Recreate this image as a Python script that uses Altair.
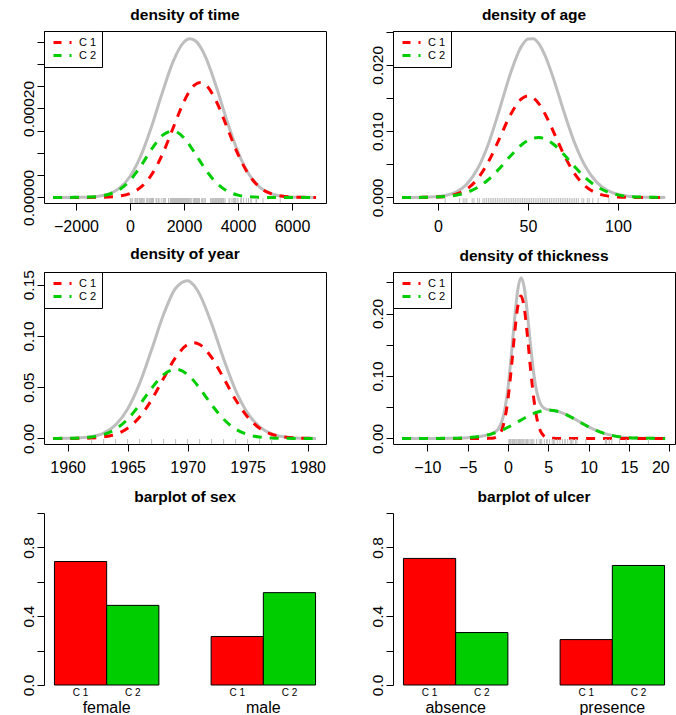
import altair as alt
import pandas as pd

FONT = "Liberation Sans"
RED, GREEN, GRAY = "#FF0000", "#00CD00", "#BEBEBE"
SERIES = ["C 1", "C 2"]

# ---------------- density of time ----------------
time_x = [-2850, -2400, -2000, -1600, -1200, -800, -400, 0, 400, 800, 1200, 1600, 2000, 2200,
          2400, 2600, 2800, 3200, 3600, 4000, 4400, 4800, 5200, 5600, 6000, 6400, 6890]
time_c1 = [0, 0, 0, 0, 2e-7, 8e-7, 2.9e-6, 8.8e-6, 2.29e-5, 5.11e-5, 9.68e-5, 1.565e-4, 2.155e-4, 2.381e-4,
           2.53e-4, 2.58e-4, 2.53e-4, 2.155e-4, 1.565e-4, 9.68e-5, 5.11e-5, 2.29e-5, 8.8e-6, 2.9e-6, 8e-7, 2e-7, 0]
time_c2 = [0, 0, 1.2e-7, 5.5e-7, 2.07e-6, 6.6e-6, 1.73e-5, 3.82e-5, 7.04e-5, 1.083e-4, 1.392e-4, 1.493e-4, 1.338e-4, 1.183e-4,
           1.0e-4, 8.09e-5, 6.25e-5, 3.26e-5, 1.42e-5, 5.2e-6, 1.57e-6, 4e-7, 0, 0, 0, 0, 0]
time_mix = [0, 0, 1.2e-7, 5.5e-7, 2.27e-6, 7.4e-6, 2.02e-5, 4.70e-5, 9.33e-5, 1.594e-4, 2.360e-4, 3.058e-4, 3.493e-4, 3.564e-4,
            3.53e-4, 3.389e-4, 3.155e-4, 2.481e-4, 1.707e-4, 1.020e-4, 5.27e-5, 2.33e-5, 8.8e-6, 2.9e-6, 8e-7, 2e-7, 0]
time_rug = [10, 30, 35, 99, 185, 204, 210, 232, 279, 295, 355, 386, 426, 469, 493, 529, 621, 629, 659, 667, 718,
            752, 779, 793, 817, 826, 833, 858, 869, 872, 967, 977, 982, 1041, 1055, 1062, 1075, 1156, 1228, 1252,
            1271, 1312, 1427, 1435, 1499, 1506, 1508, 1510, 1512, 1516, 1525, 1548, 1557, 1560, 1563, 1584, 1605,
            1621, 1627, 1634, 1641, 1648, 1652, 1654, 1667, 1678, 1685, 1690, 1710, 1726, 1745, 1762, 1779, 1787,
            1793, 1804, 1812, 1836, 1839, 1854, 1856, 1860, 1864, 1899, 1914, 1919, 1920, 1927, 1933, 1942, 1955,
            1956, 1958, 1963, 1970, 2005, 2007, 2011, 2024, 2028, 2038, 2056, 2059, 2061, 2062, 2075, 2085, 2102,
            2103, 2104, 2108, 2112, 2150, 2156, 2165, 2209, 2227, 2256, 2264, 2339, 2361, 2387, 2388, 2403, 2426,
            2431, 2460, 2467, 2492, 2493, 2521, 2542, 2559, 2565, 2570, 2660, 2666, 2676, 2738, 2782, 2787, 2984,
            3032, 3040, 3042, 3067, 3079, 3101, 3144, 3152, 3154, 3180, 3182, 3185, 3199, 3228, 3229, 3278, 3297,
            3328, 3330, 3338, 3383, 3384, 3385, 3388, 3402, 3441, 3458, 3459, 3476, 3523, 3667, 3695, 3776, 3830,
            3856, 3872, 3909, 3968, 4001, 4103, 4119, 4124, 4207, 4310, 4390, 4479, 4492, 4668, 4688, 4926, 5565]

# ---------------- density of age ----------------
age_x = [-20, -14, -8, -2, 4, 10, 16, 22, 28, 34, 40, 46, 50, 53, 56, 60, 64, 70, 76, 82, 88, 94, 100, 106,
         112, 118, 124, 126.3]
age_c1 = [4e-7, 2.1e-6, 1.05e-5, 4.4e-5, 1.57e-4, 4.80e-4, 1.253e-3, 2.805e-3, 5.37e-3, 8.79e-3, 1.232e-2, 1.478e-2,
          1.53e-2, 1.50e-2, 1.415e-2, 1.232e-2, 1.001e-2, 6.44e-3, 3.54e-3, 1.668e-3, 6.72e-4, 2.32e-4, 6.8e-5,
          1.7e-5, 3.7e-6, 7e-7, 0, 0]
age_c2 = [1.0e-6, 4.1e-6, 1.45e-5, 4.6e-5, 1.31e-4, 3.32e-4, 7.49e-4, 1.508e-3, 2.70e-3, 4.32e-3, 6.16e-3, 7.83e-3,
          8.61e-3, 8.95e-3, 9.04e-3, 8.75e-3, 8.06e-3, 6.46e-3, 4.62e-3, 2.95e-3, 1.675e-3, 8.49e-4, 3.84e-4,
          1.54e-4, 5.5e-5, 1.8e-5, 5e-6, 3e-6]
age_mix = [1.4e-6, 6.2e-6, 2.5e-5, 9.0e-5, 2.88e-4, 8.12e-4, 2.002e-3, 4.313e-3, 8.07e-3, 1.311e-2, 1.848e-2,
           2.261e-2, 2.391e-2, 2.395e-2, 2.319e-2, 2.107e-2, 1.807e-2, 1.29e-2, 8.16e-3, 4.618e-3, 2.347e-3,
           1.081e-3, 4.52e-4, 1.71e-4, 5.9e-5, 1.9e-5, 5e-6, 3e-6]
age_rug = [4, 12, 14, 15, 16, 19, 20, 22, 23, 25, 26, 27, 28, 29, 30, 31, 32, 33, 34, 35, 36, 37, 38, 39, 40, 41,
           42, 43, 44, 45, 46, 47, 48, 49, 50, 51, 52, 53, 54, 55, 56, 57, 58, 59, 60, 61, 62, 63, 64, 65, 66, 67,
           68, 69, 70, 71, 72, 73, 74, 75, 76, 77, 78, 80, 81, 83, 84, 86, 89, 95]

# ---------------- density of year ----------------
year_x = [1958.8, 1959, 1960, 1961, 1962, 1963, 1964, 1965, 1966, 1967, 1968, 1969, 1970, 1970.5, 1971, 1972,
          1973, 1974, 1975, 1976, 1977, 1978, 1979, 1980, 1980.7]
year_c1 = [3e-6, 5e-6, 2.7e-5, 1.18e-4, 4.46e-4, 1.46e-3, 4.1e-3, 9.96e-3, 2.086e-2, 3.77e-2, 5.88e-2, 7.90e-2,
           9.16e-2, 9.33e-2, 9.16e-2, 7.90e-2, 5.88e-2, 3.77e-2, 2.086e-2, 9.96e-3, 4.1e-3, 1.46e-3, 4.46e-4,
           1.18e-4, 4e-5]
year_c2 = [1.6e-5, 2.3e-5, 1.03e-4, 4.04e-4, 1.34e-3, 3.79e-3, 9.13e-3, 1.877e-2, 3.286e-2, 4.90e-2, 6.23e-2,
           6.75e-2, 6.23e-2, 5.64e-2, 4.90e-2, 3.286e-2, 1.877e-2, 9.13e-3, 3.79e-3, 1.34e-3, 4.04e-4, 1.03e-4,
           2.3e-5, 4e-6, 1e-6]
year_mix = [1.9e-5, 2.8e-5, 1.3e-4, 5.22e-4, 1.786e-3, 5.25e-3, 1.323e-2, 2.873e-2, 5.372e-2, 8.67e-2, 1.211e-1,
            1.465e-1, 1.539e-1, 1.497e-1, 1.406e-1, 1.119e-1, 7.757e-2, 4.683e-2, 2.465e-2, 1.13e-2, 4.504e-3,
            1.563e-3, 4.69e-4, 1.22e-4, 4.1e-5]
year_rug = [1962, 1963, 1964, 1965, 1966, 1967, 1968, 1969, 1970, 1971, 1972, 1973, 1974, 1975, 1976, 1977]

# ---------------- density of thickness ----------------
thick_x = [-13.15, -11, -9, -7, -5, -4, -3, -2.4, -2, -1.6, -1.2, -0.8, -0.4, 0, 0.4, 0.8, 1.2, 1.6, 2.0, 2.4,
           2.8, 3.2, 3.6, 4.0, 4.4, 4.8, 5.2, 6, 7, 8, 9, 10, 11, 12, 13, 14, 15, 16, 17.5, 19.5]
thick_c1 = [0, 0, 0, 0, 0, 0, 6e-6, 7.6e-5, 3.5e-4, 1.36e-3, 4.52e-3, 1.28e-2, 3.09e-2, 6.33e-2, 1.11e-1,
            1.655e-1, 2.104e-1, 2.28e-1, 2.104e-1, 1.655e-1, 1.11e-1, 6.33e-2, 3.09e-2, 1.28e-2, 4.52e-3, 1.36e-3,
            3.5e-4, 1.4e-5, 0, 0, 0, 0, 0, 0, 0, 0, 0, 0, 0, 0]
thick_c2 = [0, 3.7e-6, 3.3e-5, 2.26e-4, 1.13e-3, 2.27e-3, 4.25e-3, 5.97e-3, 7.37e-3, 9.01e-3, 1.087e-2, 1.298e-2,
            1.531e-2, 1.785e-2, 2.056e-2, 2.342e-2, 2.636e-2, 2.933e-2, 3.225e-2, 3.505e-2, 3.765e-2, 3.998e-2,
            4.195e-2, 4.351e-2, 4.461e-2, 4.52e-2, 4.526e-2, 4.383e-2, 3.943e-2, 3.297e-2, 2.562e-2, 1.851e-2,
            1.243e-2, 7.76e-3, 4.5e-3, 2.43e-3, 1.22e-3, 5.7e-4, 1.6e-4, 2.2e-5]
thick_mix = [0, 3.7e-6, 3.3e-5, 2.26e-4, 1.13e-3, 2.27e-3, 4.256e-3, 6.05e-3, 7.72e-3, 1.037e-2, 1.539e-2,
             2.578e-2, 4.621e-2, 8.115e-2, 1.3156e-1, 1.8892e-1, 2.3676e-1, 2.5733e-1, 2.4265e-1, 2.0055e-1,
             1.4865e-1, 1.0328e-1, 7.285e-2, 5.631e-2, 4.913e-2, 4.656e-2, 4.561e-2, 4.384e-2, 3.943e-2, 3.297e-2,
             2.562e-2, 1.851e-2, 1.243e-2, 7.76e-3, 4.5e-3, 2.43e-3, 1.22e-3, 5.7e-4, 1.6e-4, 2.2e-5]
thick_rug = [0.10, 0.16, 0.24, 0.32, 0.48, 0.58, 0.64, 0.65, 0.81, 0.97, 1.03, 1.13, 1.29, 1.34, 1.37, 1.45, 1.53,
             1.62, 1.76, 1.78, 1.94, 2.10, 2.24, 2.26, 2.34, 2.42, 2.58, 2.74, 2.90, 3.06, 3.22, 3.54, 3.56, 3.87,
             4.04, 4.09, 4.19, 4.51, 4.82, 4.83, 4.84, 5.16, 5.48, 5.64, 5.80, 6.12, 6.44, 6.76, 7.06, 7.09, 7.41,
             7.73, 7.89, 8.06, 8.38, 8.54, 9.66, 12.08, 12.24, 12.56, 12.88, 13.85, 14.66, 17.42]

# ---------------- barplots ----------------
sex_cats = ["female", "male"]
sex_c1 = [0.718, 0.282]
sex_c2 = [0.463, 0.537]
ulcer_cats = ["absence", "presence"]
ulcer_c1 = [0.736, 0.264]
ulcer_c2 = [0.305, 0.695]

W, H = 282, 172
NBSP = "\u00a0"


def curves_frame(x, c1, c2, mix):
    rows = []
    for xi, a, b, m in zip(x, c1, c2, mix):
        rows.append({"x": xi, "s": "mix", "y": m})
        rows.append({"x": xi, "s": "C 1", "y": a})
        rows.append({"x": xi, "s": "C 2", "y": b})
    return pd.DataFrame(rows)


def ylabel_expr(keep, fmt):
    cond = " || ".join(f"abs(datum.value - {v!r}) < 1e-9" for v in keep)
    return f"({cond}) ? format(datum.value, '{fmt}') : ''"


def title(t):
    return alt.TitleParams(text=t, fontSize=15.5, fontWeight="bold", font=FONT, color="black",
                           offset=-5, baseline="alphabetic", anchor="middle", frame="group")


def yaxis(values, keep, fmt, domain=False):
    return alt.Axis(values=values, title=None, grid=False, domain=domain, domainColor="black",
                    ticks=True, tickSize=7, tickColor="black", labelAngle=270, labelAlign="center",
                    labelBaseline="bottom", labelPadding=1, labelFontSize=15.5, labelFont=FONT,
                    labelColor="black", labelOverlap=False, labelExpr=ylabel_expr(keep, fmt))


def xaxis(values, flush=0):
    return alt.Axis(values=values, format="d", title=None, grid=False, domain=False, ticks=True,
                    tickSize=7, tickColor="black", labelFontSize=16, labelFont=FONT, labelColor="black",
                    labelPadding=8, labelOverlap=False, labelBaseline="top",
                    labelFlush=flush if flush else False)


def legend():
    return alt.Legend(title=None, orient="top-left", offset=0, padding=5, strokeColor="black",
                      fillColor="white", symbolType="M-0.4,0H3.2", symbolSize=100, symbolStrokeWidth=3,
                      symbolDash=[8, 8], labelFontSize=11, labelFont=FONT, labelColor="black",
                      labelOffset=17, rowPadding=-3,
                      labelExpr=f"datum.label + '{NBSP * 8}'", cornerRadius=0)


def density_panel(name, x, c1, c2, mix, rug, xdom, ydom, xt, yt, keep, fmt, flush=0):
    df = curves_frame(x, c1, c2, mix)
    xs = alt.Scale(domain=xdom, nice=False, zero=False)
    ys = alt.Scale(domain=ydom, nice=False, zero=False)
    xa = xaxis(xt, flush)
    ya = yaxis(yt, keep, fmt)
    base = alt.Chart(df)
    gray = base.transform_filter("datum.s == 'mix'").mark_line(
        color=GRAY, strokeWidth=3, interpolate="monotone").encode(
        x=alt.X("x:Q", scale=xs, axis=xa),
        y=alt.Y("y:Q", scale=ys, axis=ya))
    comps = base.transform_filter("datum.s != 'mix'").mark_line(
        strokeWidth=3, strokeDash=[9, 8], interpolate="monotone").encode(
        x=alt.X("x:Q", scale=xs, axis=xa), y=alt.Y("y:Q", scale=ys, axis=ya),
        color=alt.Color("s:N", scale=alt.Scale(domain=SERIES, range=[RED, GREEN]), legend=legend()))
    rugl = alt.Chart(pd.DataFrame({"x": rug})).mark_rule(color=GRAY, strokeWidth=1).encode(
        x=alt.X("x:Q", scale=xs, axis=xa), y=alt.value(H), y2=alt.value(H - 5))
    return alt.layer(gray, comps, rugl).properties(width=W, height=H, title=title(name))


def bar_panel(name, cats, c1, c2):
    df = pd.DataFrame({"cat": cats + cats, "cl": ["C 1"] * len(cats) + ["C 2"] * len(cats), "v": c1 + c2})
    xsc = alt.Scale(domain=cats, paddingInner=1 / 3, paddingOuter=1 / 15)
    osc = alt.Scale(domain=SERIES, paddingInner=0, paddingOuter=0)
    yax = yaxis([0, 0.2, 0.4, 0.6, 0.8, 1.0], [0, 0.4, 0.8], ".1f", domain=True)
    xax = alt.Axis(title=None, labelAngle=0, ticks=False, tickSize=0, domain=False,
                   labelFontSize=16, labelFont=FONT, labelColor="black", labelPadding=14,
                   labelBaseline="top")
    bars = alt.Chart(df).mark_bar(stroke="black", strokeWidth=1).encode(
        x=alt.X("cat:N", scale=xsc, sort=cats, axis=xax),
        xOffset=alt.XOffset("cl:N", scale=osc),
        y=alt.Y("v:Q", scale=alt.Scale(domain=[0, 1], nice=False), axis=yax),
        color=alt.Color("cl:N", scale=alt.Scale(domain=SERIES, range=[RED, GREEN]), legend=None))
    labels = alt.Chart(df).mark_text(fontSize=10, font=FONT, color="black", baseline="middle").encode(
        x=alt.X("cat:N", scale=xsc, sort=cats, axis=xax),
        xOffset=alt.XOffset("cl:N", scale=osc),
        y=alt.value(H + 8),
        text="cl:N")
    return alt.layer(bars, labels).properties(width=W, height=H, title=title(name),
                                              view=alt.ViewBackground(stroke="transparent"))


p_time = density_panel("density of time", time_x, time_c1, time_c2, time_mix, time_rug,
                       [-3185, 7259], [-1.26e-5, 3.74e-4], [-2000, 0, 2000, 4000, 6000],
                       [0, 0.00005, 0.0001, 0.00015, 0.0002, 0.00025, 0.0003, 0.00035], [0, 0.0002], ".5f")
p_age = density_panel("density of age", age_x, age_c1, age_c2, age_mix, age_rug,
                      [-25.0, 131.7], [-0.00084, 0.0251], [0, 50, 100],
                      [0, 0.005, 0.01, 0.015, 0.02, 0.025], [0, 0.01, 0.02], ".3f")
p_year = density_panel("density of year", year_x, year_c1, year_c2, year_mix, year_rug,
                       [1958.03, 1981.53], [-0.00544, 0.1624], [1960, 1965, 1970, 1975, 1980],
                       [0, 0.05, 0.1, 0.15], [0, 0.05, 0.1, 0.15], ".2f")
p_thick = density_panel("density of thickness", thick_x, thick_c1, thick_c2, thick_mix, thick_rug,
                        [-14.27, 20.72], [-0.00894, 0.2665], [-10, -5, 0, 5, 10, 15, 20],
                        [0, 0.05, 0.1, 0.15, 0.2, 0.25], [0, 0.1, 0.2], ".2f", flush=10)
p_sex = bar_panel("barplot of sex", sex_cats, sex_c1, sex_c2)
p_ulcer = bar_panel("barplot of ulcer", ulcer_cats, ulcer_c1, ulcer_c2)

chart = alt.concat(p_time, p_age, p_year, p_thick, p_sex, p_ulcer, columns=2,
                   spacing={"row": 69, "column": 67}, bounds="flush").resolve_scale(
    color="independent").properties(
    padding={"left": 20, "top": 7, "right": 0, "bottom": 0}, background="white"
).configure_view(stroke="black", strokeWidth=1)

chart.save("out.html", embed_options={"renderer": "svg", "actions": False})
